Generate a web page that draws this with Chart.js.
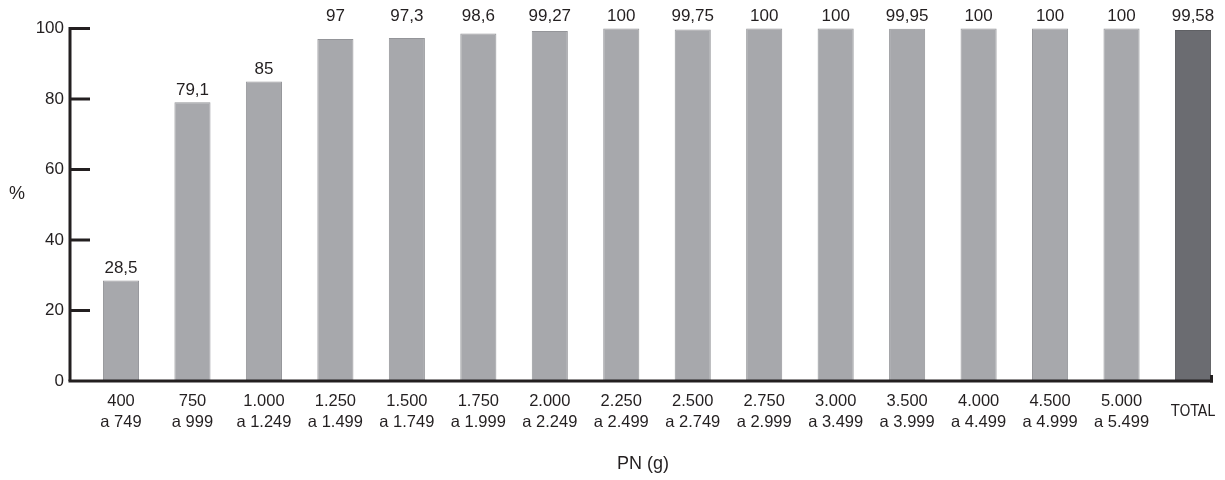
<!DOCTYPE html>
<html>
<head>
<meta charset="utf-8">
<script src="https://cdn.jsdelivr.net/npm/chart.js@4/dist/chart.umd.min.js"></script>
<style>
  html, body { margin: 0; padding: 0; background: #ffffff; }
  #wrap { width: 1225px; height: 480px; }
</style>
</head>
<body>
<div id="wrap"><canvas id="c" width="1225" height="480" style="width:1225px;height:480px"></canvas></div>
<script>
const categories = [
  ["400", "a 749"], ["750", "a 999"], ["1.000", "a 1.249"], ["1.250", "a 1.499"],
  ["1.500", "a 1.749"], ["1.750", "a 1.999"], ["2.000", "a 2.249"], ["2.250", "a 2.499"],
  ["2.500", "a 2.749"], ["2.750", "a 2.999"], ["3.000", "a 3.499"], ["3.500", "a 3.999"],
  ["4.000", "a 4.499"], ["4.500", "a 4.999"], ["5.000", "a 5.499"], "TOTAL"
];
const values = [28.5, 79.1, 85, 97, 97.3, 98.6, 99.27, 100, 99.75, 100, 100, 99.95, 100, 100, 100, 99.58];
const yTicks = [0, 20, 40, 60, 80, 100];
const xTitle = "PN (g)";
const yTitle = "%";

const INK = '#231f20';
const FONT = "'Liberation Sans', Arial, sans-serif";

function fmt(v) { return String(v).replace('.', ','); }

const lastIdx = categories.length - 1;

const decorPlugin = {
  id: 'decor',
  afterDatasetsDraw(chart) {
    const { ctx, scales: { x, y } } = chart;
    const axisX = 70;
    const y0 = y.getPixelForValue(0);
    const y100 = y.getPixelForValue(100);
    ctx.save();
    ctx.strokeStyle = INK;
    ctx.lineWidth = 3;
    ctx.lineCap = 'butt';
    // y axis line
    ctx.beginPath(); ctx.moveTo(axisX, y100 - 1.5); ctx.lineTo(axisX, y0); ctx.stroke();
    // y tick marks
    yTicks.forEach(v => {
      if (v === 0) return;
      const py = y.getPixelForValue(v);
      ctx.beginPath(); ctx.moveTo(axisX, py); ctx.lineTo(axisX + 20, py); ctx.stroke();
    });
    // x axis line
    const xEnd = x.getPixelForValue(lastIdx) + 20;
    ctx.beginPath(); ctx.moveTo(axisX - 1.5, y0); ctx.lineTo(xEnd, y0); ctx.stroke();
    ctx.beginPath(); ctx.moveTo(xEnd - 1.5, y0 + 1.5); ctx.lineTo(xEnd - 1.5, y0 - 6); ctx.stroke();

    // value labels
    const meta = chart.getDatasetMeta(0);
    ctx.fillStyle = INK;
    ctx.font = '17px ' + FONT;
    ctx.textAlign = 'center';
    ctx.textBaseline = 'middle';
    const topRow = y100 - 12;
    meta.data.forEach((bar, i) => {
      const v = values[i];
      const ly = v >= 95 ? topRow : bar.y - 12;
      ctx.fillText(fmt(v), bar.x, ly);
    });

    // axis titles
    ctx.font = '18px ' + FONT;
    ctx.fillText(yTitle, 17, 194);
    ctx.fillText(xTitle, 643, 464);
    ctx.restore();
  }
};

new Chart(document.getElementById('c'), {
  type: 'bar',
  data: {
    labels: categories,
    datasets: [{
      data: values,
      backgroundColor: values.map((v, i) => i === lastIdx ? '#6b6c71' : '#a7a8ac'),
      borderColor: values.map((v, i) => i === lastIdx ? '#5f6064' : '#949599'),
      borderWidth: 1,
      categoryPercentage: 1,
      barPercentage: 0.505,
      clip: false
    }]
  },
  options: {
    responsive: false,
    animation: false,
    layout: { padding: { top: 28.5, right: 32, left: 0, bottom: 0 } },
    plugins: { legend: { display: false }, tooltip: { enabled: false } },
    scales: {
      x: {
        offset: false,
        grid: { display: false, drawTicks: false },
        border: { display: false },
        ticks: {
          autoSkip: false,
          maxRotation: 0,
          minRotation: 0,
          crossAlign: 'center',
          padding: 20,
          color: INK,
          font: (ctx) => ctx.index === lastIdx
            ? { family: "'DejaVu Sans Condensed', 'Liberation Sans', sans-serif", size: 15.5, lineHeight: 1.3 }
            : { family: FONT, size: 16.5, lineHeight: 1.3 }
        },
        afterFit(s) { s.height = 99; s.paddingLeft = 0; s.paddingRight = 0; }
      },
      y: {
        min: 0,
        max: 100,
        grid: { display: false, drawTicks: false },
        border: { display: false },
        afterBuildTicks(s) { s.ticks = yTicks.map(v => ({ value: v })); },
        ticks: {
          padding: 57,
          color: INK,
          font: { family: FONT, size: 17 }
        },
        afterFit(s) { s.width = 121; s.paddingTop = 0; s.paddingBottom = 0; }
      }
    }
  },
  plugins: [decorPlugin]
});
</script>
</body>
</html>
